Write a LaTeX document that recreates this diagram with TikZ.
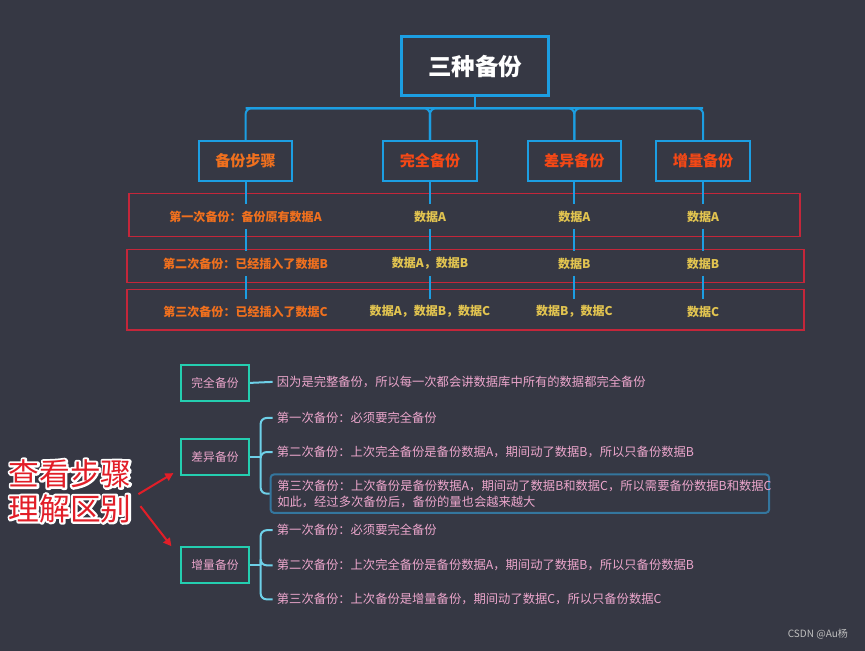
\documentclass[tikz,border=0pt]{standalone}
\usepackage{fontspec}
\setmainfont{Noto Sans CJK SC}
\usepackage{xcolor}
\usetikzlibrary{positioning,arrows.meta,calc}

\definecolor{bgdark}{RGB}{54,56,68}
\definecolor{lineblue}{RGB}{28,158,226}
\definecolor{rowred}{RGB}{196,38,58}
\definecolor{headorange}{RGB}{240,112,30}
\definecolor{headred}{RGB}{244,72,22}
\definecolor{datayellow}{RGB}{226,196,80}
\definecolor{boxteal}{RGB}{36,206,176}
\definecolor{notepink}{RGB}{236,166,204}
\definecolor{bracecyan}{RGB}{110,208,232}
\definecolor{frameblue}{RGB}{52,118,158}
\definecolor{markred}{RGB}{226,30,40}

% white outline round a line of text (stroked copy underneath)
\newcommand{\halo}[1]{%
  \leavevmode
  \rlap{\textcolor{white}{\special{pdf:literal direct 2 Tr 3.2 w 1 j}#1%
    \special{pdf:literal direct 0 Tr}}}%
  #1}

\begin{document}
\begin{tikzpicture}[
  x=0.75pt,y=-0.75pt,
  >={Triangle[length=6pt,width=6pt]},
  tbox/.style  ={draw=lineblue,line width=2.25pt,text=white,
                 font=\fontsize{17.6pt}{20pt}\selectfont\bfseries,
                 minimum width=110pt,minimum height=44pt,inner sep=0pt},
  hbox/.style  ={draw=lineblue,line width=1.5pt,
                 font=\fontsize{11.3pt}{13pt}\selectfont\bfseries,
                 minimum width=70pt,minimum height=30pt,inner sep=0pt},
  rowbox/.style={draw=rowred,line width=1.2pt,inner sep=0pt},
  rtxt/.style  ={font=\fontsize{9pt}{11pt}\selectfont\bfseries,
                 minimum height=18pt,inner sep=0pt},
  link/.style  ={draw=lineblue,line width=1.5pt,rounded corners=4.5pt},
  kbox/.style  ={draw=boxteal,line width=1.5pt,text=notepink,
                 font=\fontsize{8.8pt}{10pt}\selectfont,
                 minimum width=51pt,minimum height=27pt,inner sep=0pt},
  item/.style  ={anchor=west,text=notepink,inner xsep=3pt,inner ysep=1pt,
                 font=\fontsize{9.2pt}{12pt}\selectfont},
  brace/.style ={draw=bracecyan,line width=1.5pt,rounded corners=4.5pt},
  markarrow/.style={->,draw=markred,line width=1.5pt},
]

% background
\fill[bgdark] (2,0) rectangle (865,649);

% ===================== top tree ==========================================
\node[tbox] (top) at (476,66) {三种备份};

\node[hbox,text=headorange] (hstep) at (247,160.5)   {备份步骤};
\node[hbox,text=headred]    (hfull) at (431,160.5)   {完全备份};
\node[hbox,text=headred]    (hdiff) at (575,160.5)   {差异备份};
\node[hbox,text=headred]    (hincr) at (703.5,160.5) {增量备份};

\coordinate (bar) at (476,108);
\draw[link] (top.south) -- (bar);
\draw[link] (hstep.north) |- (bar) -| (hincr.north);
\draw[link] (hfull.north) |- (bar);
\draw[link] (hfull.north) |- (hstep.north|-bar);
\draw[link] (hdiff.north) |- (bar);
\draw[link] (hdiff.north) |- (hincr.north|-bar);

% row frames
\node[rowbox,minimum width=501.75pt,minimum height=32.25pt] (row1) at (465.5,214.5) {};
\node[rowbox,minimum width=506.25pt,minimum height=24.75pt] (row2) at (466.5,265.5) {};
\node[rowbox,minimum width=506.25pt,minimum height=30pt]    (row3) at (466.5,309)   {};

% row texts
\node[rtxt,text=headorange] (step1) at (247,216) {第一次备份：备份原有数据A};
\node[rtxt,text=headorange] (step2) at (247,263) {第二次备份：已经插入了数据B};
\node[rtxt,text=headorange] (step3) at (247,311) {第三次备份：已经插入了数据C};

\node[rtxt,text=datayellow] (full1) at (431,216) {数据A};
\node[rtxt,text=datayellow] (full2) at (431,263) {数据A，数据B};
\node[rtxt,text=datayellow] (full3) at (431,311) {数据A，数据B，数据C};

\node[rtxt,text=datayellow] (diff1) at (575,216) {数据A};
\node[rtxt,text=datayellow] (diff2) at (575,263) {数据B};
\node[rtxt,text=datayellow] (diff3) at (575,311) {数据B，数据C};

\node[rtxt,text=datayellow] (incr1) at (703.5,216) {数据A};
\node[rtxt,text=datayellow] (incr2) at (703.5,263) {数据B};
\node[rtxt,text=datayellow] (incr3) at (703.5,311) {数据C};

\foreach \col in {step,full,diff,incr}{
  \draw[link] (h\col.south) -- (\col1.north);
  \draw[link] (\col1.south) -- (\col2.north);
  \draw[link] (\col2.south) -- (\col3.north);
}

% ===================== bottom notes ======================================
\node[kbox] (kfull) at (216.5,382)   {完全备份};
\node[kbox] (kdiff) at (216.5,455.5) {差异备份};
\node[kbox] (kincr) at (216.5,563.5) {增量备份};

\node[item] (nfull) at (274,381) {因为是完整备份，所以每一次都会讲数据库中所有的数据都完全备份};
\draw[brace] (kfull.east) -- (nfull.west);

% differential
\node[item] (d1) at (274,417) {第一次备份：必须要完全备份};
\node[item] (d2) at (274,451) {第二次备份：上次完全备份是备份数据A，期间动了数据B，所以只备份数据B};
\node[item,draw=frameblue,line width=1.5pt,rounded corners=2.5pt,
      text width=363pt,align=left,inner xsep=5pt,inner ysep=4pt]
  (d3) at (271,492.5)
  {第三次备份：上次备份是备份数据A，期间动了数据B和数据C，所以需要备份数据B和数据C\\
   如此，经过多次备份后，备份的量也会越来越大};
\coordinate (dj) at (262,455.5);
\draw[brace] (kdiff.east) -- (dj);
\draw[brace] (dj) |- (d1.west);
\draw[brace] (dj) |- (d2.west);
\draw[brace] (dj) |- (d3.west);

% incremental
\node[item] (i1) at (274,529) {第一次备份：必须要完全备份};
\node[item] (i2) at (274,564) {第二次备份：上次完全备份是备份数据A，期间动了数据B，所以只备份数据B};
\node[item] (i3) at (274,598) {第三次备份：上次备份是增量备份，期间动了数据C，所以只备份数据C};
\coordinate (ij) at (262,563.5);
\draw[brace] (kincr.east) -- (ij);
\draw[brace] (ij) |- (i1.west);
\draw[brace] (ij) |- (i2.west);
\draw[brace] (ij) |- (i3.west);

% hint in red
\node[text=markred,align=center,inner sep=0pt,
      font=\fontsize{23pt}{26pt}\selectfont] (note) at (72,490)
  {\halo{查看步骤}\\\halo{理解区别}};
\draw[markarrow] ($(note.east)+(6.5,3)$)  -- ($(kdiff.south west)+(-6.5,-2.5)$);
\draw[markarrow] ($(note.east)+(8.5,15)$) -- ($(kincr.north west)+(-8.5,0.5)$);

\node[text=black!25,font=\fontsize{7.5pt}{9pt}\selectfont] (csdn) at (818,633) {CSDN @Au杨};

\end{tikzpicture}
\end{document}
